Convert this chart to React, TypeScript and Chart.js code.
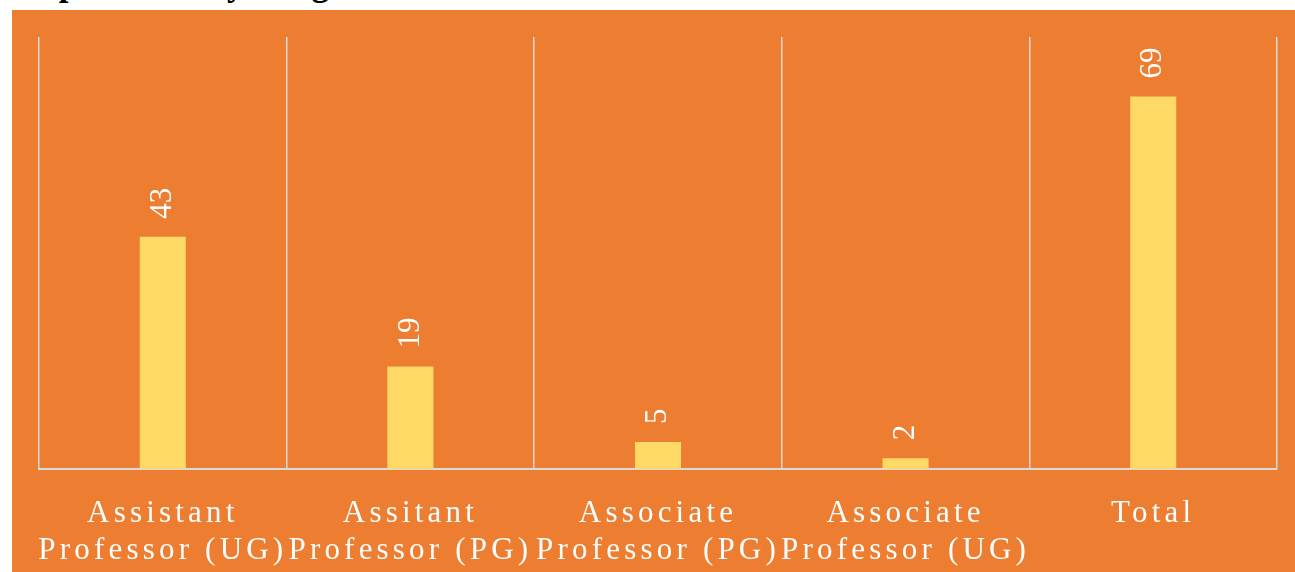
import React, { useEffect, useRef } from "react";
import { Chart, registerables } from "chart.js";

Chart.register(...registerables);

const categories: string[][] = [
  ["Assistant", "Professor (UG)"],
  ["Assitant", "Professor (PG)"],
  ["Associate", "Professor (PG)"],
  ["Associate", "Professor (UG)"],
  ["Total"],
];
const counts: number[] = [43, 19, 5, 2, 69];
const titleText = "Department by designation";

const ORANGE = "#ED7D31";
const BAR = "#FFD966";
const GRID = "#D9D9D9";

export default function App() {
  const ref = useRef<HTMLCanvasElement | null>(null);

  useEffect(() => {
    if (!ref.current) return;
    const spacingPlugin = {
      id: "spacing",
      beforeDraw(chart: any) {
        chart.ctx.save();
        (chart.ctx as any).letterSpacing = "4.2px";
      },
      afterDraw(chart: any) {
        chart.ctx.restore();
      },
    };
    const valueLabels = {
      id: "valueLabels",
      afterDatasetsDraw(chart: any) {
        const ctx = chart.ctx as CanvasRenderingContext2D;
        const meta = chart.getDatasetMeta(0);
        ctx.save();
        (ctx as any).letterSpacing = "0px";
        ctx.fillStyle = "#FFFFFF";
        ctx.font = "31px 'Liberation Serif', serif";
        ctx.textAlign = "left";
        ctx.textBaseline = "middle";
        meta.data.forEach((bar: any, i: number) => {
          ctx.save();
          ctx.translate(bar.x, bar.y - 18);
          ctx.rotate(-Math.PI / 2);
          ctx.fillText(String(counts[i]), 0, 0);
          ctx.restore();
        });
        ctx.restore();
      },
    };
    const chart = new Chart(ref.current, {
      type: "bar",
      data: {
        labels: categories,
        datasets: [
          {
            data: counts,
            backgroundColor: BAR,
            borderWidth: 0,
            barPercentage: 0.186,
            categoryPercentage: 1,
          },
        ],
      },
      options: {
        responsive: false,
        animation: false,
        layout: { padding: { left: 27, right: 18, top: 27, bottom: 0 } },
        plugins: { legend: { display: false }, tooltip: { enabled: false } },
        scales: {
          x: {
            grid: { display: true, color: GRID, lineWidth: 1.5, drawTicks: false, offset: true },
            border: { display: true, color: GRID, width: 2 },
            ticks: {
              color: "#FFFFFF",
              font: { family: "'Liberation Serif', serif", size: 31, lineHeight: 1.2 },
              padding: 26,
              maxRotation: 0,
              minRotation: 0,
              autoSkip: false,
            },
            afterFit(scale: any) {
              scale.height = 103;
            },
          },
          y: {
            display: false,
            min: 0,
            max: 80,
          },
        },
      },
      plugins: [spacingPlugin, valueLabels],
    });
    return () => chart.destroy();
  }, []);

  return (
    <div
      style={{
        position: "fixed",
        left: 0,
        top: 0,
        width: 1295,
        height: 572,
        background: "#FFFFFF",
        overflow: "hidden",
      }}
    >
      <div
        style={{
          position: "absolute",
          left: 18,
          top: -34,
          fontFamily: "'Liberation Serif', serif",
          fontWeight: "bold",
          fontSize: 35,
          lineHeight: "35px",
          color: "#000000",
          whiteSpace: "nowrap",
        }}
      >
        {titleText}
      </div>
      <div
        style={{
          position: "absolute",
          left: 12,
          top: 10,
          width: 1283,
          height: 562,
          background: ORANGE,
        }}
      >
        <canvas ref={ref} width={1283} height={562} style={{ display: "block" }} />
      </div>
    </div>
  );
}
